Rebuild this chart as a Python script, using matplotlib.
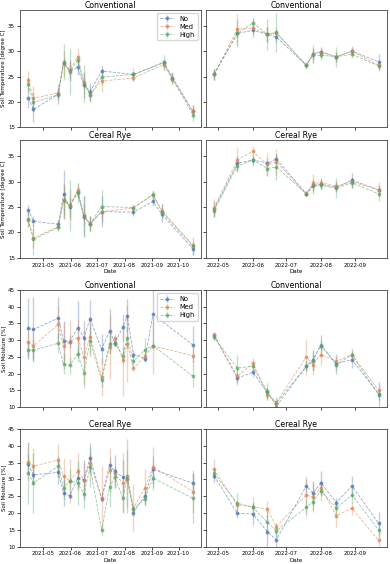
import numpy as np
import matplotlib
matplotlib.use('Agg')
import matplotlib.pyplot as plt
import matplotlib.dates as mdates
import pandas as pd

treatments = ['No', 'Med', 'High']
colors = ['#4C72B0', '#DD8452', '#55A868']

# sampling dates
temp21_conv_dates = ['2021-04-14', '2021-04-20', '2021-05-18', '2021-05-24', '2021-05-31', '2021-06-09',
                     '2021-06-16', '2021-06-23', '2021-07-06', '2021-08-11', '2021-09-14', '2021-09-24',
                     '2021-10-17']
temp21_rye_dates = ['2021-04-14', '2021-04-20', '2021-05-18', '2021-05-24', '2021-05-31', '2021-06-09',
                    '2021-06-16', '2021-06-23', '2021-07-06', '2021-08-11', '2021-09-02', '2021-09-12',
                    '2021-10-17']
moist21_dates = ['2021-04-14', '2021-04-20', '2021-05-18', '2021-05-24', '2021-05-31', '2021-06-09',
                 '2021-06-16', '2021-06-23', '2021-07-06', '2021-07-15', '2021-07-21', '2021-07-30',
                 '2021-08-04', '2021-08-11', '2021-08-24', '2021-09-02', '2021-10-17']
dates22 = ['2022-04-27', '2022-05-18', '2022-06-01', '2022-06-14', '2022-06-22', '2022-07-19',
           '2022-07-25', '2022-08-01', '2022-08-15', '2022-08-29', '2022-09-22']

# soil temperature, rows = No, Med, High
temp21_conv = [[20.7, 18.5, 21.5, 27.7, 26.2, 26.8, 23.3, 22.0, 26.1, 25.4, 27.8, 24.8, 18.2],
               [24.3, 20.7, 21.8, 27.5, 26.3, 28.9, 24.0, 21.4, 24.1, 24.7, 27.3, 24.5, 18.1],
               [23.5, 19.9, 21.4, 27.9, 25.9, 28.2, 23.6, 21.4, 24.9, 25.4, 27.7, 24.6, 17.5]]
temp21_conv_err = [[2.0, 2.5, 2.0, 1.0, 2.0, 1.5, 2.5, 1.8, 1.2, 0.5, 0.5, 1.0, 1.2],
                   [1.8, 2.5, 1.0, 2.5, 1.5, 1.8, 1.5, 1.0, 2.2, 0.5, 1.0, 1.0, 1.2],
                   [1.5, 2.0, 1.0, 3.5, 4.5, 1.0, 3.7, 1.5, 1.5, 1.2, 1.5, 1.0, 1.2]]
temp21_rye = [[24.5, 22.2, 21.6, 27.5, 25.0, 28.0, 23.1, 21.7, 24.1, 24.0, 26.1, 23.6, 16.8],
              [22.5, 18.9, 21.1, 26.2, 25.5, 28.3, 23.5, 21.6, 24.1, 24.8, 27.5, 24.3, 17.5],
              [22.6, 18.6, 21.0, 26.3, 25.3, 27.8, 23.2, 21.7, 25.1, 24.9, 27.4, 24.1, 17.3]]
temp21_rye_err = [[1.0, 1.0, 0.8, 4.8, 2.0, 1.0, 4.0, 1.5, 3.0, 0.7, 0.8, 1.5, 1.2],
                  [1.5, 2.0, 0.8, 3.5, 3.0, 1.5, 2.0, 1.5, 1.5, 0.7, 0.8, 1.5, 0.8],
                  [1.5, 3.0, 0.8, 3.0, 5.0, 2.0, 4.0, 1.5, 3.3, 0.7, 0.8, 1.5, 1.8]]
temp22_conv = [[25.4, 33.5, 34.1, 33.3, 32.8, 27.2, 29.5, 29.9, 28.9, 30.0, 27.9],
               [25.4, 34.3, 34.6, 33.3, 33.6, 27.2, 29.5, 29.7, 28.9, 30.0, 27.2],
               [25.4, 33.5, 35.6, 33.3, 33.7, 27.2, 29.2, 29.2, 28.9, 29.4, 27.1]]
temp22_conv_err = [[1.0, 1.0, 1.0, 1.5, 1.0, 0.5, 1.0, 1.0, 1.0, 0.8, 1.5],
                   [1.0, 3.0, 2.0, 1.5, 1.0, 0.5, 1.8, 1.0, 1.0, 1.0, 1.0],
                   [1.1, 2.6, 1.0, 3.0, 3.8, 0.5, 1.5, 1.0, 2.0, 0.8, 1.0]]
temp22_rye = [[24.6, 33.6, 34.3, 33.6, 34.5, 27.6, 29.3, 29.5, 28.9, 30.3, 28.4],
              [24.8, 34.3, 36.0, 33.4, 33.9, 27.6, 29.7, 29.8, 29.1, 30.0, 28.4],
              [24.3, 33.1, 34.3, 32.6, 32.9, 27.6, 29.1, 29.3, 28.7, 29.8, 27.6]]
temp22_rye_err = [[1.5, 1.5, 1.2, 1.0, 1.0, 0.5, 1.0, 1.0, 1.0, 1.5, 1.0],
                  [1.8, 2.3, 1.0, 2.2, 2.5, 0.5, 1.8, 1.0, 1.0, 1.0, 1.5],
                  [1.0, 1.0, 0.8, 1.5, 2.5, 0.5, 1.5, 1.0, 2.0, 1.0, 1.5]]

# soil moisture, rows = No, Med, High
moist21_conv = [[33.5, 33.2, 36.6, 29.8, 29.6, 33.7, 30.8, 36.4, 27.3, 32.8, 29.3, 33.8, 37.3, 25.7, 24.5, 37.7, 28.6],
                [29.6, 28.3, 34.7, 28.3, 29.5, 30.8, 25.0, 31.0, 19.0, 28.0, 30.8, 24.0, 29.0, 21.6, 25.3, 28.3, 25.4],
                [27.1, 27.0, 29.1, 22.8, 22.5, 25.9, 20.3, 29.8, 18.0, 29.0, 29.0, 25.4, 30.8, 23.7, 27.2, 28.4, 19.3]]
moist21_conv_err = [[9.0, 9.7, 6.2, 6.0, 2.0, 8.0, 5.0, 5.5, 4.5, 6.5, 1.0, 4.0, 5.0, 1.0, 1.0, 8.5, 5.5],
                    [4.0, 4.0, 5.5, 7.0, 6.5, 5.5, 8.0, 6.0, 5.7, 9.5, 1.0, 10.5, 11.5, 1.0, 1.0, 8.5, 3.0],
                    [2.5, 3.0, 3.0, 3.0, 2.5, 2.5, 4.5, 4.0, 2.0, 3.0, 1.0, 2.5, 3.0, 1.5, 3.5, 1.0, 3.3]]
moist21_rye = [[34.5, 31.4, 32.1, 26.1, 25.1, 30.4, 29.9, 36.5, 24.3, 34.3, 32.4, 30.7, 30.1, 20.1, 25.2, 33.0, 28.9],
               [35.3, 34.0, 35.8, 30.9, 29.6, 32.4, 29.9, 34.8, 24.4, 32.8, 31.6, 28.9, 30.2, 21.5, 27.6, 33.8, 26.4],
               [31.9, 28.9, 34.0, 27.6, 29.6, 29.0, 25.6, 33.7, 14.8, 27.9, 30.6, 24.4, 31.0, 21.3, 24.3, 30.4, 24.4]]
moist21_rye_err = [[3.0, 3.0, 3.5, 4.0, 1.0, 3.0, 6.0, 4.5, 1.0, 2.5, 5.0, 5.0, 1.0, 1.0, 2.5, 4.0, 3.0],
                   [5.5, 5.5, 5.0, 5.5, 6.5, 5.5, 5.0, 3.0, 9.5, 6.5, 2.5, 9.0, 8.5, 7.0, 5.5, 6.0, 6.5],
                   [9.2, 9.0, 3.0, 3.5, 3.5, 6.5, 4.0, 6.0, 1.5, 6.0, 3.0, 4.0, 11.0, 1.0, 2.0, 3.5, 7.5]]
moist22_conv = [[31.5, 18.7, 20.4, 14.4, 11.2, 22.2, 24.2, 28.4, 23.0, 24.2, 14.0],
                [31.5, 19.2, 23.2, 13.7, 11.4, 25.0, 22.7, 25.7, 23.7, 25.7, 15.0],
                [30.9, 21.7, 22.2, 14.7, 10.2, 22.2, 23.7, 28.7, 22.7, 25.7, 13.7]]
moist22_conv_err = [[1.0, 1.5, 1.5, 1.5, 2.0, 1.5, 3.0, 3.0, 3.0, 2.5, 3.5],
                    [1.0, 2.5, 1.5, 1.5, 1.0, 5.5, 3.0, 3.0, 1.5, 2.0, 2.0],
                    [1.0, 4.0, 1.5, 2.5, 1.0, 1.5, 3.0, 1.5, 1.5, 1.0, 1.5]]
moist22_rye = [[31.1, 19.9, 19.7, 14.4, 12.0, 28.1, 25.9, 29.0, 23.1, 28.1, 16.9],
               [33.0, 22.4, 21.9, 21.2, 15.9, 25.4, 24.7, 27.6, 19.2, 21.4, 11.8],
               [31.8, 22.9, 21.7, 17.2, 14.7, 21.7, 23.4, 26.6, 21.4, 25.4, 14.9]]
moist22_rye_err = [[2.0, 1.5, 3.3, 5.0, 2.5, 2.0, 3.5, 3.5, 1.5, 3.0, 3.5],
                   [3.0, 1.0, 1.0, 2.5, 1.0, 5.5, 4.5, 2.5, 3.5, 2.0, 1.5],
                   [1.5, 3.0, 3.0, 3.5, 2.0, 3.0, 2.5, 3.0, 2.5, 2.5, 2.5]]

plt.rcParams['font.size'] = 4
plt.rcParams['axes.titlesize'] = 5.6
plt.rcParams['axes.labelsize'] = 4
plt.rcParams['xtick.labelsize'] = 4
plt.rcParams['ytick.labelsize'] = 4
plt.rcParams['axes.linewidth'] = 0.6
plt.rcParams['axes.edgecolor'] = '#444444'


def drawPanel(ax, dates, means, errs, title):
    """Draw one panel: mean +- error for each treatment."""
    x = pd.to_datetime(dates)
    for mean, err, col, name in zip(means, errs, colors, treatments):
        ax.errorbar(x, mean, yerr=err, fmt='o--', color=col, ms=1.8, lw=0.6,
                    elinewidth=1.0, alpha=0.6, ecolor=col, label=name)
    # make the error bars lighter than the lines
    for coll in ax.collections:
        coll.set_alpha(0.35)
    ax.set_title(title, pad=1.5)
    ax.xaxis.set_major_locator(mdates.MonthLocator())
    ax.xaxis.set_major_formatter(mdates.DateFormatter('%Y-%m'))
    ax.tick_params(length=2, width=0.5, pad=1.5)


fig = plt.figure(figsize=(3.9, 5.64), dpi=100)
gsTop = fig.add_gridspec(2, 2, left=0.051, right=0.992, top=0.983, bottom=0.543,
                         wspace=0.026, hspace=0.11)
gsBot = fig.add_gridspec(2, 2, left=0.051, right=0.992, top=0.486, bottom=0.031,
                         wspace=0.026, hspace=0.187)

blocks = [
    (gsTop, 'Soil Temperature [degree C]', (15, 38.2),
     [(temp21_conv_dates, temp21_conv, temp21_conv_err, dates22, temp22_conv, temp22_conv_err, 'Conventional'),
      (temp21_rye_dates, temp21_rye, temp21_rye_err, dates22, temp22_rye, temp22_rye_err, 'Cereal Rye')]),
    (gsBot, 'Soil Moisture [%]', (10, 45),
     [(moist21_dates, moist21_conv, moist21_conv_err, dates22, moist22_conv, moist22_conv_err, 'Conventional'),
      (moist21_dates, moist21_rye, moist21_rye_err, dates22, moist22_rye, moist22_rye_err, 'Cereal Rye')]),
]

for gs, ylab, ylim, rows in blocks:
    axes = np.empty((2, 2), dtype=object)
    for r in range(2):
        for c in range(2):
            kw = {}
            if r == 1:
                kw['sharex'] = axes[0, c]
            if c == 1:
                kw['sharey'] = axes[r, 0]
            axes[r, c] = fig.add_subplot(gs[r, c], **kw)
    for r, (d21, m21, e21, d22, m22, e22, title) in enumerate(rows):
        drawPanel(axes[r, 0], d21, m21, e21, title)
        drawPanel(axes[r, 1], d22, m22, e22, title)
        axes[r, 0].set_ylabel(ylab, labelpad=1.5)
        axes[r, 0].set_ylim(*ylim)
        axes[r, 1].tick_params(labelleft=False)
    for c in range(2):
        axes[0, c].tick_params(labelbottom=False)
        axes[1, c].set_xlabel('Date', labelpad=1)
    axes[0, 0].legend(loc='upper right', fontsize=4.8, handlelength=2.2, borderpad=0.4,
                      labelspacing=0.3)

fig.savefig('out.png', dpi=100)
